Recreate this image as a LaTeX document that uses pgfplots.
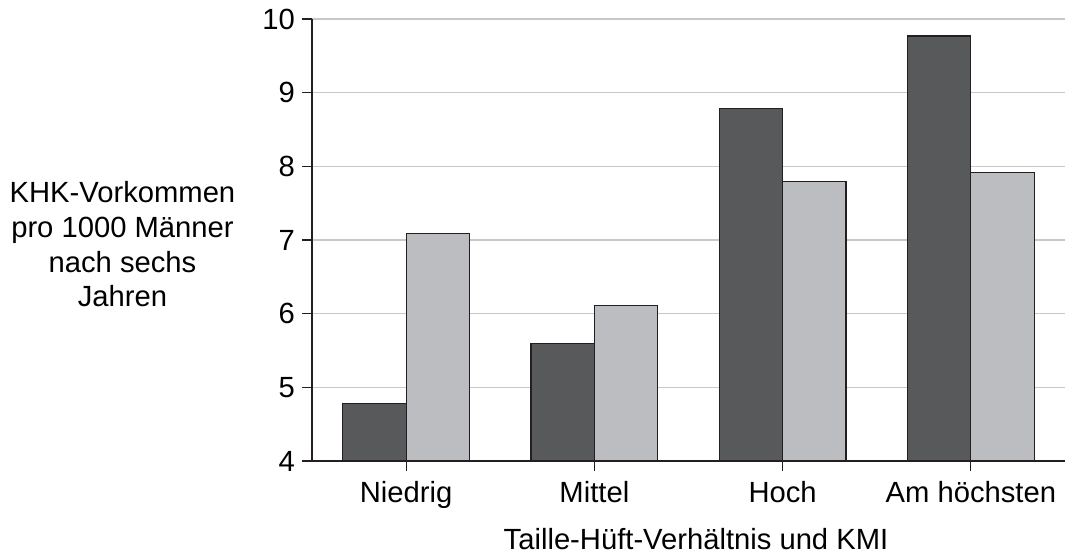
\documentclass[border=0pt]{standalone}
\usepackage{fontspec}
\setmainfont{Liberation Sans}
\usepackage{pgfplots}
\pgfplotsset{compat=1.18}
\usetikzlibrary{calc}
\definecolor{darkbar}{HTML}{58595B}
\definecolor{lightbar}{HTML}{BCBDC0}
\definecolor{edge}{HTML}{231F20}
\definecolor{gridgray}{HTML}{C8C8C8}
\begin{document}
\begin{tikzpicture}
\begin{axis}[
    width=376.5pt, height=221pt, scale only axis,
    ybar=0pt, bar width=31.67pt,
    xmin=0.5, xmax=4.5, ymin=4, ymax=10,
    axis x line*=bottom, axis y line*=left,
    axis line style={-, edge, line width=0.8pt},
    xtick={1,2,3,4},
    xticklabels={Niedrig, Mittel, Hoch, Am h\"ochsten},
    ytick={4,5,6,7,8,9,10},
    tick align=outside,
    major tick length=5pt,
    tick style={edge, line width=0.6pt},
    ymajorgrids,
    grid style={gridgray, line width=0.8pt},
    font=\fontsize{14.6}{17.3}\selectfont,
    /pgf/number format/assume math mode=true,
    ticklabel style={font=\fontsize{14.6}{17.3}\selectfont},
    xticklabel style={yshift=-1.5pt},
    xlabel={Taille-H\"uft-Verh\"altnis und KMI},
    xlabel style={at={(axis description cs:0.51,0)}, anchor=base, yshift=-44pt},
    ylabel={KHK-Vorkommen\\pro 1000 M\"anner\\nach sechs\\Jahren},
    ylabel style={rotate=-90, align=center, at={(axis description cs:-0.2517,0.49)}, anchor=center},
]
\addplot[fill=darkbar, draw=edge, line width=0.6pt] coordinates {(1,4.78) (2,5.59) (3,8.79) (4,9.77)};
\addplot[fill=lightbar, draw=edge, line width=0.6pt] coordinates {(1,7.09) (2,6.11) (3,7.79) (4,7.92)};
\end{axis}
\pgfresetboundingbox
\path ($(current axis.south west)+(-156pt,-48.5pt)$) rectangle ($(current axis.north east)+(0pt,9.5pt)$);
\end{tikzpicture}
\end{document}
